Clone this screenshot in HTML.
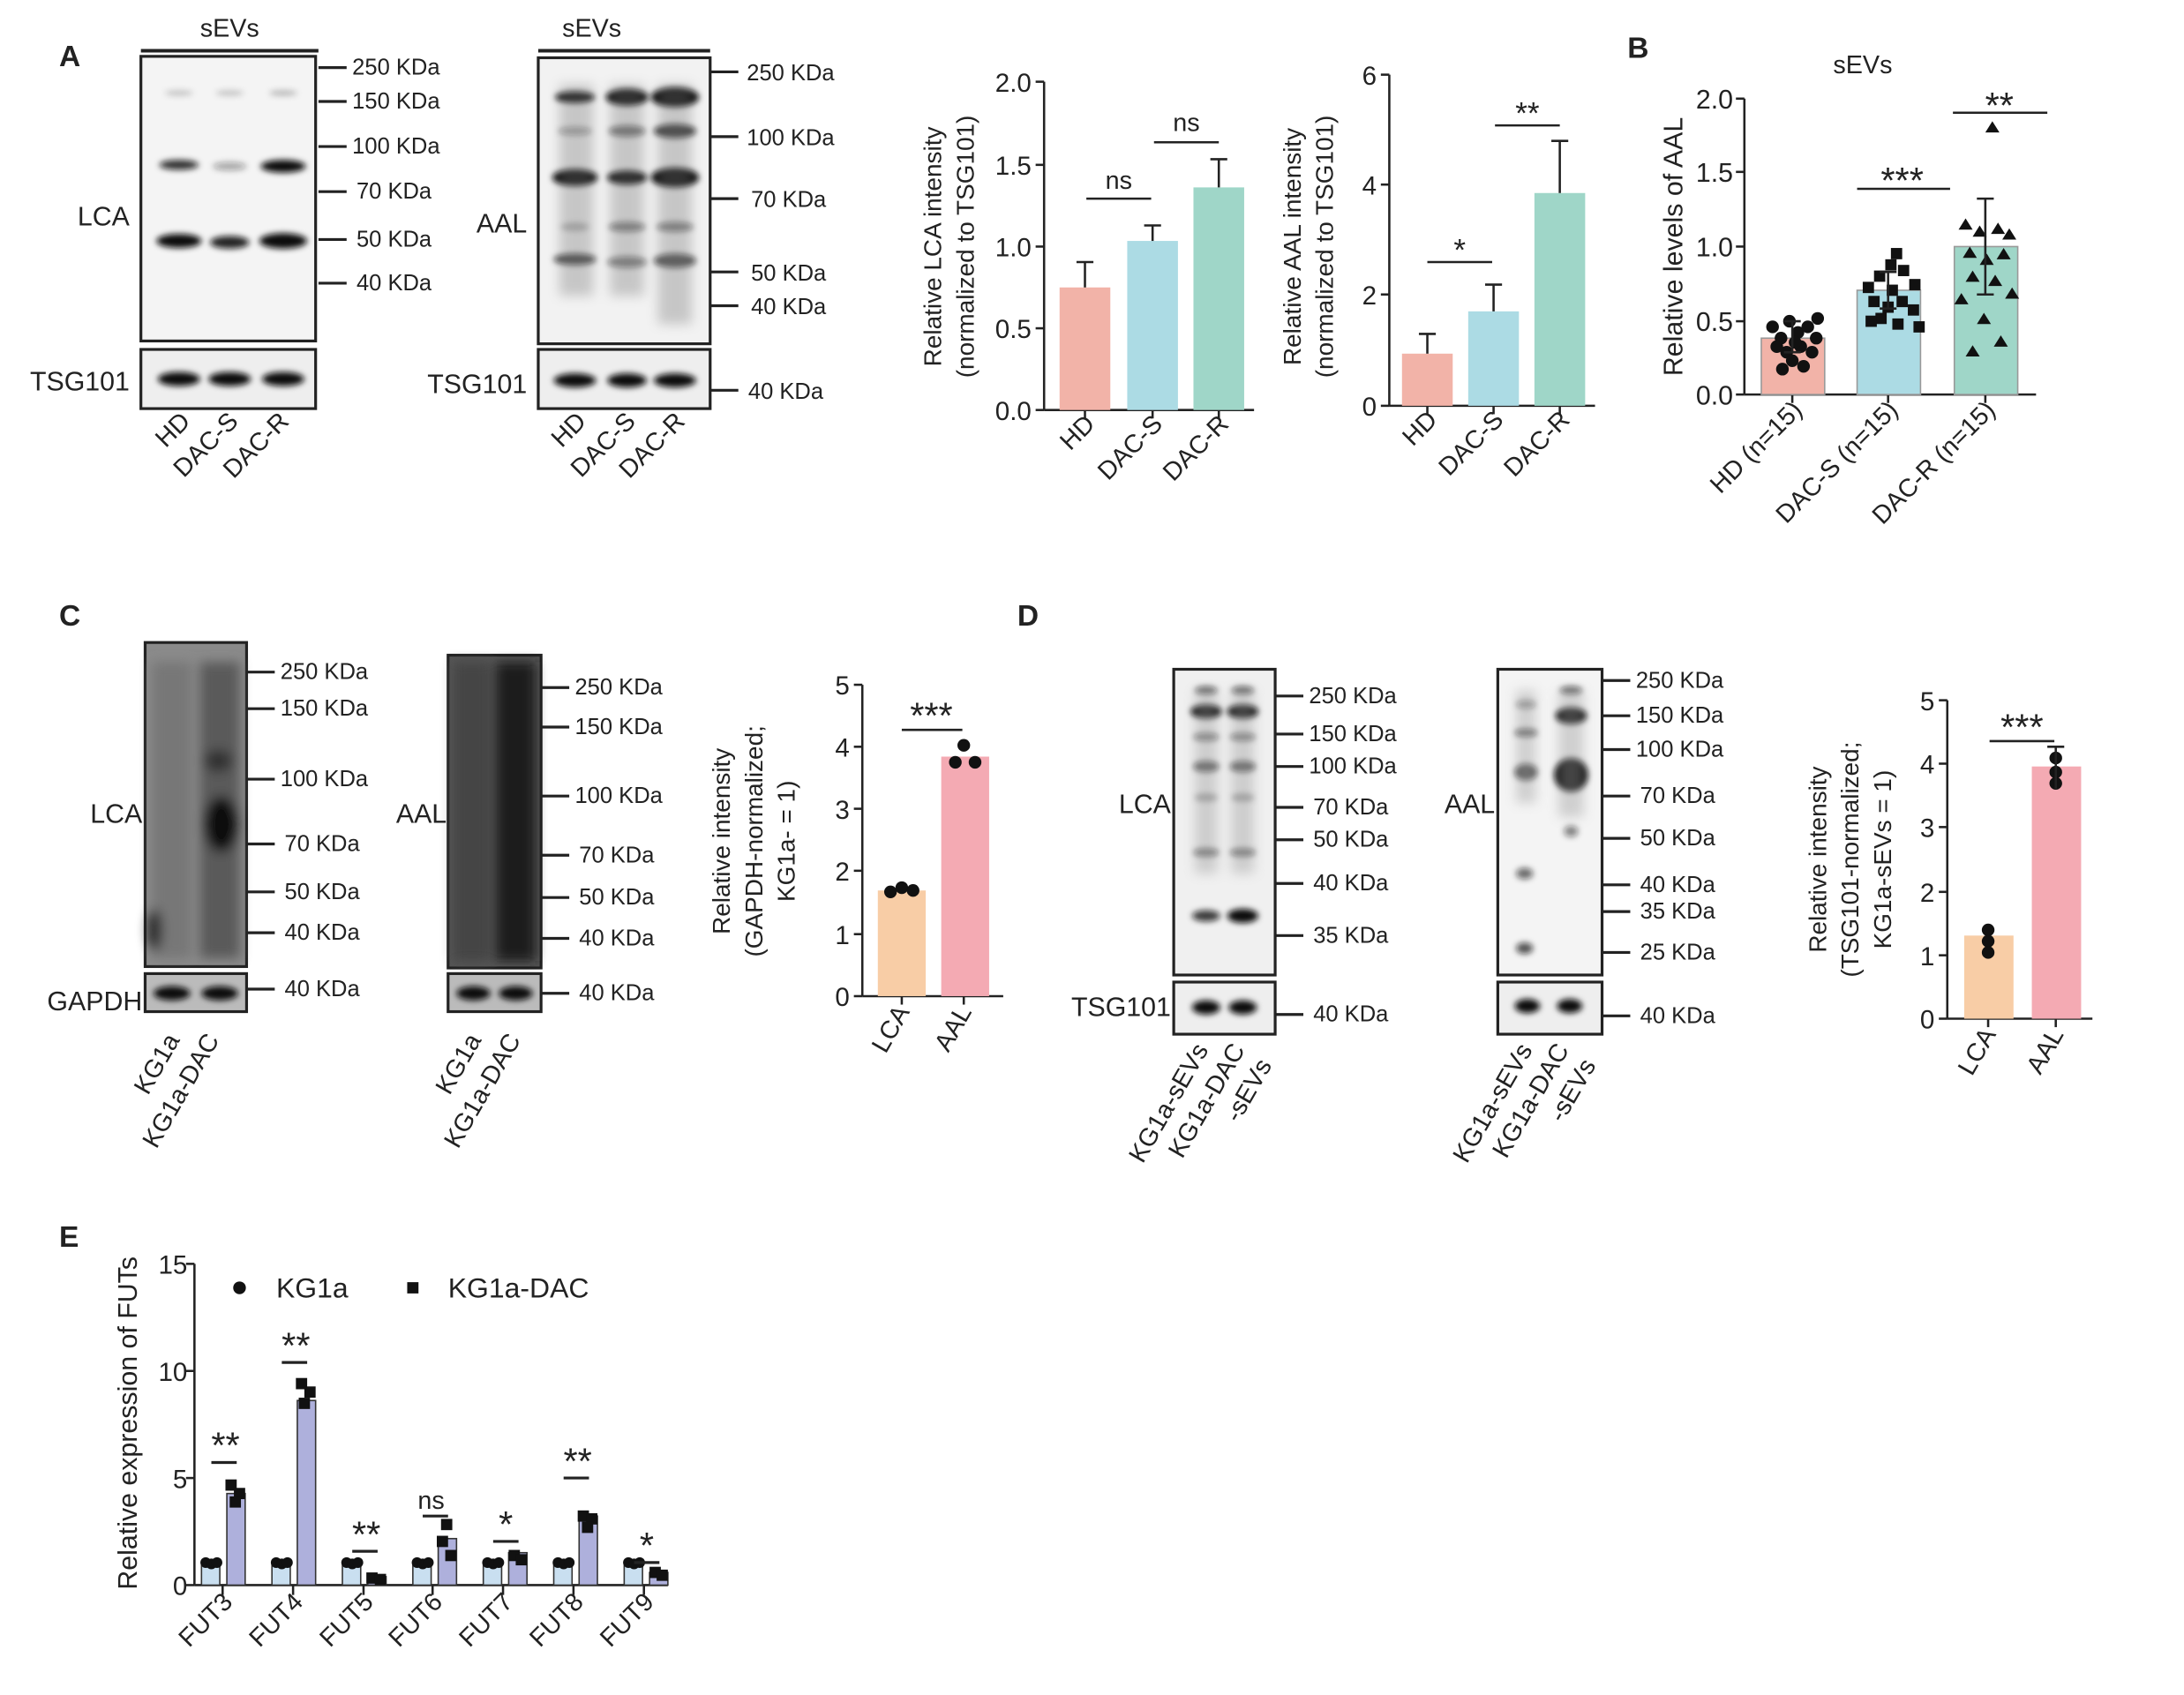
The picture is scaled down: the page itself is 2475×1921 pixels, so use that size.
<!DOCTYPE html>
<html><head><meta charset="utf-8"><style>
html,body{margin:0;padding:0;background:#fff}
svg{display:block}
text{font-family:"Liberation Sans",Arial,sans-serif;fill:#222}
.tk{font-size:18.5px}
.yt{font-size:17.5px}
.xl{font-size:18px}
</style></head><body>
<svg width="2475" height="1921" viewBox="0 0 1550 1203" preserveAspectRatio="none" xmlns="http://www.w3.org/2000/svg">
<defs>
<filter id="b" x="-50%" y="-200%" width="200%" height="500%"><feGaussianBlur stdDeviation="2.2"/></filter>
<filter id="b2" x="-50%" y="-50%" width="200%" height="200%"><feGaussianBlur stdDeviation="4"/></filter>
</defs>
<rect width="1550" height="1203" fill="#fff"/>

<!-- ================= PANEL A ================= -->
<text x="42" y="47" font-size="21" font-weight="bold">A</text>
<text x="163" y="26" font-size="18" text-anchor="middle">sEVs</text>
<line x1="100" y1="36" x2="226" y2="36" stroke="#222" stroke-width="2.5"/>
<rect x="100" y="40" width="124" height="202" fill="#f4f4f4" stroke="#222" stroke-width="2"/>
<g filter="url(#b)" fill="#111">
<ellipse cx="127" cy="117" rx="14" ry="3.5" opacity="0.85"/>
<ellipse cx="163" cy="118" rx="12" ry="3" opacity="0.35"/>
<ellipse cx="201" cy="118" rx="16" ry="4.5"/>
<ellipse cx="127" cy="171" rx="16" ry="5"/>
<ellipse cx="163" cy="172" rx="14" ry="4.5" opacity="0.9"/>
<ellipse cx="201" cy="171" rx="17" ry="5.5"/>
<ellipse cx="127" cy="66" rx="10" ry="2" opacity="0.2"/>
<ellipse cx="163" cy="66" rx="10" ry="2" opacity="0.2"/>
<ellipse cx="201" cy="66" rx="10" ry="2" opacity="0.25"/>
</g>
<rect x="100" y="248" width="124" height="42" fill="#eee" stroke="#222" stroke-width="2"/>
<g filter="url(#b)" fill="#111">
<ellipse cx="127" cy="269" rx="15" ry="5"/><ellipse cx="163" cy="269" rx="15" ry="5"/><ellipse cx="201" cy="269" rx="15" ry="5"/>
</g>
<text x="92" y="160" font-size="19" text-anchor="end">LCA</text>
<text x="92" y="277" font-size="19" text-anchor="end">TSG101</text>
<g stroke="#222" stroke-width="2">
<line x1="226" y1="48" x2="246" y2="48"/><line x1="226" y1="72" x2="246" y2="72"/>
<line x1="226" y1="104" x2="246" y2="104"/><line x1="226" y1="136" x2="246" y2="136"/>
<line x1="226" y1="170" x2="246" y2="170"/><line x1="226" y1="201" x2="246" y2="201"/>
</g>
<g font-size="16">
<text x="250" y="53">250 KDa</text><text x="250" y="77">150 KDa</text>
<text x="250" y="109">100 KDa</text><text x="253" y="141">70 KDa</text>
<text x="253" y="175">50 KDa</text><text x="253" y="206">40 KDa</text>
</g>
<g class="xl" text-anchor="end">
<text transform="translate(136,300) rotate(-45)">HD</text>
<text transform="translate(170,300) rotate(-45)">DAC-S</text>
<text transform="translate(206,300) rotate(-45)">DAC-R</text>
</g>

<!-- AAL blot -->
<text x="420" y="26" font-size="18" text-anchor="middle">sEVs</text>
<line x1="382" y1="36" x2="504" y2="36" stroke="#222" stroke-width="2.5"/>
<rect x="382" y="41" width="122" height="203" fill="#f2f2f2" stroke="#222" stroke-width="2"/>
<g filter="url(#b)" fill="#111">
<ellipse cx="408" cy="69" rx="14" ry="4"/><ellipse cx="445" cy="69" rx="15" ry="6"/><ellipse cx="479" cy="69" rx="17" ry="7"/>
<ellipse cx="408" cy="93" rx="12" ry="3" opacity="0.35"/><ellipse cx="445" cy="93" rx="13" ry="4" opacity="0.55"/><ellipse cx="479" cy="93" rx="15" ry="5" opacity="0.8"/>
<ellipse cx="408" cy="126" rx="16" ry="6"/><ellipse cx="445" cy="126" rx="14" ry="5"/><ellipse cx="479" cy="126" rx="17" ry="7"/>
<ellipse cx="408" cy="161" rx="10" ry="3" opacity="0.25"/><ellipse cx="445" cy="161" rx="13" ry="3.5" opacity="0.5"/><ellipse cx="479" cy="161" rx="13" ry="3.5" opacity="0.5"/>
<ellipse cx="408" cy="184" rx="15" ry="4" opacity="0.75"/><ellipse cx="445" cy="186" rx="14" ry="4" opacity="0.5"/><ellipse cx="479" cy="185" rx="15" ry="5" opacity="0.7"/>
</g>
<g filter="url(#b2)" fill="#777" opacity="0.35">
<rect x="397" y="60" width="24" height="150"/><rect x="433" y="60" width="24" height="150"/><rect x="467" y="60" width="24" height="170"/>
</g>
<rect x="382" y="248" width="122" height="42" fill="#eee" stroke="#222" stroke-width="2"/>
<g filter="url(#b)" fill="#111">
<ellipse cx="408" cy="270" rx="15" ry="5"/><ellipse cx="445" cy="270" rx="14" ry="5"/><ellipse cx="479" cy="270" rx="15" ry="5"/>
</g>
<text x="374" y="165" font-size="19" text-anchor="end">AAL</text>
<text x="374" y="279" font-size="19" text-anchor="end">TSG101</text>
<g stroke="#222" stroke-width="2">
<line x1="504" y1="51" x2="524" y2="51"/><line x1="504" y1="97" x2="524" y2="97"/>
<line x1="504" y1="141" x2="524" y2="141"/><line x1="504" y1="193" x2="524" y2="193"/>
<line x1="504" y1="217" x2="524" y2="217"/><line x1="504" y1="277" x2="524" y2="277"/>
</g>
<g font-size="16">
<text x="530" y="57">250 KDa</text><text x="530" y="103">100 KDa</text>
<text x="533" y="147">70 KDa</text><text x="533" y="199">50 KDa</text>
<text x="533" y="223">40 KDa</text><text x="531" y="283">40 KDa</text>
</g>
<g class="xl" text-anchor="end">
<text transform="translate(417,300) rotate(-45)">HD</text>
<text transform="translate(452,300) rotate(-45)">DAC-S</text>
<text transform="translate(487,300) rotate(-45)">DAC-R</text>
</g>

<!-- LCA bar chart -->
<g stroke="#222" stroke-width="1.6">
<line x1="741" y1="58" x2="741" y2="291"/><line x1="741" y1="291" x2="890" y2="291"/>
<line x1="735" y1="58" x2="741" y2="58"/><line x1="735" y1="117" x2="741" y2="117"/><line x1="735" y1="175" x2="741" y2="175"/><line x1="735" y1="233" x2="741" y2="233"/><line x1="735" y1="291" x2="741" y2="291"/>
<line x1="770" y1="291" x2="770" y2="297"/><line x1="818" y1="291" x2="818" y2="297"/><line x1="865" y1="291" x2="865" y2="297"/>
</g>
<g class="tk" text-anchor="end">
<text x="732" y="65">2.0</text><text x="732" y="124">1.5</text><text x="732" y="182">1.0</text><text x="732" y="240">0.5</text><text x="732" y="298">0.0</text>
</g>
<rect x="752" y="204" width="36" height="87" fill="#f2b3a8"/>
<rect x="800" y="171" width="36" height="120" fill="#acdbe4"/>
<rect x="847" y="133" width="36" height="158" fill="#9fd6c8"/>
<g stroke="#222" stroke-width="1.6">
<line x1="770" y1="204" x2="770" y2="186"/><line x1="764" y1="186" x2="776" y2="186"/>
<line x1="818" y1="171" x2="818" y2="160"/><line x1="812" y1="160" x2="824" y2="160"/>
<line x1="865" y1="133" x2="865" y2="113"/><line x1="859" y1="113" x2="871" y2="113"/>
<line x1="771" y1="141" x2="817" y2="141"/><line x1="819" y1="101" x2="865" y2="101"/>
</g>
<text x="794" y="134" font-size="18" text-anchor="middle">ns</text>
<text x="842" y="93" font-size="18" text-anchor="middle">ns</text>
<text transform="translate(668,175) rotate(-90)" class="yt" text-anchor="middle">Relative LCA intensity</text>
<text transform="translate(691,175) rotate(-90)" class="yt" text-anchor="middle">(normalized to TSG101)</text>
<g class="xl" text-anchor="end">
<text transform="translate(778,302) rotate(-45)">HD</text>
<text transform="translate(826,302) rotate(-45)">DAC-S</text>
<text transform="translate(873,302) rotate(-45)">DAC-R</text>
</g>

<!-- AAL bar chart -->
<g stroke="#222" stroke-width="1.6">
<line x1="986" y1="53" x2="986" y2="288"/><line x1="986" y1="288" x2="1132" y2="288"/>
<line x1="980" y1="53" x2="986" y2="53"/><line x1="980" y1="131" x2="986" y2="131"/><line x1="980" y1="209" x2="986" y2="209"/><line x1="980" y1="288" x2="986" y2="288"/>
<line x1="1013" y1="288" x2="1013" y2="294"/><line x1="1060" y1="288" x2="1060" y2="294"/><line x1="1107" y1="288" x2="1107" y2="294"/>
</g>
<g class="tk" text-anchor="end">
<text x="977" y="60">6</text><text x="977" y="138">4</text><text x="977" y="216">2</text><text x="977" y="295">0</text>
</g>
<rect x="995" y="251" width="36" height="37" fill="#f2b3a8"/>
<rect x="1042" y="221" width="36" height="67" fill="#acdbe4"/>
<rect x="1089" y="137" width="36" height="151" fill="#9fd6c8"/>
<g stroke="#222" stroke-width="1.6">
<line x1="1013" y1="251" x2="1013" y2="237"/><line x1="1007" y1="237" x2="1019" y2="237"/>
<line x1="1060" y1="221" x2="1060" y2="202"/><line x1="1054" y1="202" x2="1066" y2="202"/>
<line x1="1107" y1="137" x2="1107" y2="100"/><line x1="1101" y1="100" x2="1113" y2="100"/>
<line x1="1013" y1="186" x2="1059" y2="186"/><line x1="1061" y1="89" x2="1107" y2="89"/>
</g>
<text x="1036" y="185" font-size="22" text-anchor="middle">*</text>
<text x="1084" y="88" font-size="22" text-anchor="middle">**</text>
<text transform="translate(923,175) rotate(-90)" class="yt" text-anchor="middle">Relative AAL intensity</text>
<text transform="translate(946,175) rotate(-90)" class="yt" text-anchor="middle">(normalized to TSG101)</text>
<g class="xl" text-anchor="end">
<text transform="translate(1021,299) rotate(-45)">HD</text>
<text transform="translate(1068,299) rotate(-45)">DAC-S</text>
<text transform="translate(1115,299) rotate(-45)">DAC-R</text>
</g>

<!-- ================= PANEL B ================= -->
<text x="1155" y="41" font-size="21" font-weight="bold">B</text>
<text x="1322" y="52" font-size="18" text-anchor="middle">sEVs</text>
<g stroke="#222" stroke-width="1.6">
<line x1="1238" y1="70" x2="1238" y2="280"/><line x1="1238" y1="280" x2="1445" y2="280"/>
<line x1="1232" y1="70" x2="1238" y2="70"/><line x1="1232" y1="122" x2="1238" y2="122"/><line x1="1232" y1="175" x2="1238" y2="175"/><line x1="1232" y1="228" x2="1238" y2="228"/><line x1="1232" y1="280" x2="1238" y2="280"/>
<line x1="1272" y1="280" x2="1272" y2="286"/><line x1="1340" y1="280" x2="1340" y2="286"/><line x1="1409" y1="280" x2="1409" y2="286"/>
</g>
<g font-size="19" text-anchor="end">
<text x="1230" y="77">2.0</text><text x="1230" y="129">1.5</text><text x="1230" y="182">1.0</text><text x="1230" y="235">0.5</text><text x="1230" y="287">0.0</text>
</g>
<rect x="1250" y="240" width="45" height="40" fill="#f2b3a8" stroke="#999" stroke-width="1"/>
<rect x="1318" y="206" width="45" height="74" fill="#acdbe4" stroke="#999" stroke-width="1"/>
<rect x="1387" y="175" width="45" height="105" fill="#9fd6c8" stroke="#999" stroke-width="1"/>
<g fill="#111">
<circle cx="1258" cy="232" r="4.5"/><circle cx="1264" cy="240" r="4.5"/><circle cx="1270" cy="228" r="4.5"/><circle cx="1276" cy="236" r="4.5"/><circle cx="1283" cy="232" r="4.5"/><circle cx="1289" cy="240" r="4.5"/><circle cx="1261" cy="246" r="4.5"/><circle cx="1268" cy="250" r="4.5"/><circle cx="1278" cy="246" r="4.5"/><circle cx="1286" cy="250" r="4.5"/><circle cx="1272" cy="256" r="4.5"/><circle cx="1280" cy="260" r="4.5"/><circle cx="1265" cy="262" r="4.5"/><circle cx="1290" cy="226" r="4.5"/><circle cx="1274" cy="243" r="4.5"/>
<rect x="1322" y="200" width="8" height="8"/><rect x="1330" y="192" width="8" height="8"/><rect x="1339" y="202" width="8" height="8"/><rect x="1347" y="188" width="8" height="8"/><rect x="1355" y="198" width="8" height="8"/><rect x="1326" y="210" width="8" height="8"/><rect x="1336" y="214" width="8" height="8"/><rect x="1346" y="210" width="8" height="8"/><rect x="1354" y="216" width="8" height="8"/><rect x="1331" y="222" width="8" height="8"/><rect x="1343" y="226" width="8" height="8"/><rect x="1342" y="176" width="8" height="8"/><rect x="1338" y="184" width="8" height="8"/><rect x="1324" y="224" width="8" height="8"/><rect x="1358" y="228" width="8" height="8"/>
<path d="M1414,86 l5,8 h-10z"/><path d="M1395,155 l5,8 h-10z"/><path d="M1405,160 l5,8 h-10z"/><path d="M1418,158 l5,8 h-10z"/><path d="M1426,162 l5,8 h-10z"/><path d="M1398,175 l5,8 h-10z"/><path d="M1410,180 l5,8 h-10z"/><path d="M1422,176 l5,8 h-10z"/><path d="M1400,192 l5,8 h-10z"/><path d="M1416,195 l5,8 h-10z"/><path d="M1392,208 l5,8 h-10z"/><path d="M1428,204 l5,8 h-10z"/><path d="M1408,222 l5,8 h-10z"/><path d="M1420,238 l5,8 h-10z"/><path d="M1400,245 l5,8 h-10z"/>
</g>
<g stroke="#222" stroke-width="1.6">
<line x1="1272" y1="228" x2="1272" y2="250"/><line x1="1266" y1="228" x2="1278" y2="228"/><line x1="1266" y1="250" x2="1278" y2="250"/>
<line x1="1340" y1="193" x2="1340" y2="219"/><line x1="1334" y1="193" x2="1346" y2="193"/><line x1="1334" y1="219" x2="1346" y2="219"/>
<line x1="1409" y1="141" x2="1409" y2="209"/><line x1="1403" y1="141" x2="1415" y2="141"/><line x1="1403" y1="209" x2="1415" y2="209"/>
<line x1="1318" y1="134" x2="1384" y2="134"/><line x1="1386" y1="80" x2="1453" y2="80"/>
</g>
<text x="1350" y="137" font-size="26" text-anchor="middle">***</text>
<text x="1419" y="84" font-size="26" text-anchor="middle">**</text>
<text transform="translate(1194,175) rotate(-90)" font-size="19" text-anchor="middle">Relative levels of  AAL</text>
<g class="xl" text-anchor="end">
<text transform="translate(1280,292) rotate(-45)">HD (n=15)</text>
<text transform="translate(1348,292) rotate(-45)">DAC-S (n=15)</text>
<text transform="translate(1417,292) rotate(-45)">DAC-R (n=15)</text>
</g>

<!-- ================= PANEL C ================= -->
<text x="42" y="444" font-size="21" font-weight="bold">C</text>
<rect x="103" y="456" width="72" height="230" fill="#8a8a8a" stroke="#222" stroke-width="2"/>
<g filter="url(#b2)">
<rect x="108" y="470" width="28" height="210" fill="#777"/>
<rect x="142" y="470" width="28" height="210" fill="#5a5a5a"/>
<ellipse cx="157" cy="585" rx="12" ry="20" fill="#111"/>
<ellipse cx="155" cy="540" rx="10" ry="8" fill="#333"/>
<ellipse cx="110" cy="660" rx="5" ry="15" fill="#222"/>
</g>
<rect x="103" y="691" width="72" height="27" fill="#bbb" stroke="#222" stroke-width="2"/>
<g filter="url(#b)" fill="#111"><ellipse cx="122" cy="705" rx="13" ry="5"/><ellipse cx="156" cy="705" rx="13" ry="5"/></g>
<text x="101" y="584" font-size="19" text-anchor="end">LCA</text>
<text x="101" y="717" font-size="19" text-anchor="end">GAPDH</text>
<g stroke="#222" stroke-width="2">
<line x1="175" y1="477" x2="195" y2="477"/><line x1="175" y1="503" x2="195" y2="503"/><line x1="175" y1="553" x2="195" y2="553"/><line x1="175" y1="599" x2="195" y2="599"/><line x1="175" y1="633" x2="195" y2="633"/><line x1="175" y1="662" x2="195" y2="662"/><line x1="175" y1="702" x2="195" y2="702"/>
</g>
<g font-size="16">
<text x="199" y="482">250 KDa</text><text x="199" y="508">150 KDa</text><text x="199" y="558">100 KDa</text><text x="202" y="604">70 KDa</text><text x="202" y="638">50 KDa</text><text x="202" y="667">40 KDa</text><text x="202" y="707">40 KDa</text>
</g>
<rect x="318" y="465" width="66" height="222" fill="#555" stroke="#222" stroke-width="2"/>
<g filter="url(#b2)">
<rect x="322" y="470" width="26" height="212" fill="#444"/>
<rect x="352" y="470" width="28" height="212" fill="#1a1a1a"/>
</g>
<rect x="318" y="691" width="66" height="27" fill="#bbb" stroke="#222" stroke-width="2"/>
<g filter="url(#b)" fill="#111"><ellipse cx="336" cy="705" rx="12" ry="5"/><ellipse cx="366" cy="705" rx="12" ry="5"/></g>
<text x="317" y="584" font-size="19" text-anchor="end">AAL</text>
<g stroke="#222" stroke-width="2">
<line x1="384" y1="488" x2="404" y2="488"/><line x1="384" y1="516" x2="404" y2="516"/><line x1="384" y1="565" x2="404" y2="565"/><line x1="384" y1="607" x2="404" y2="607"/><line x1="384" y1="637" x2="404" y2="637"/><line x1="384" y1="666" x2="404" y2="666"/><line x1="384" y1="705" x2="404" y2="705"/>
</g>
<g font-size="16">
<text x="408" y="493">250 KDa</text><text x="408" y="521">150 KDa</text><text x="408" y="570">100 KDa</text><text x="411" y="612">70 KDa</text><text x="411" y="642">50 KDa</text><text x="411" y="671">40 KDa</text><text x="411" y="710">40 KDa</text>
</g>
<g class="xl" text-anchor="end">
<text transform="translate(128,738) rotate(-60)">KG1a</text>
<text transform="translate(156,738) rotate(-60)">KG1a-DAC</text>
<text transform="translate(342,738) rotate(-60)">KG1a</text>
<text transform="translate(370,738) rotate(-60)">KG1a-DAC</text>
</g>
<!-- C bar -->
<g stroke="#222" stroke-width="1.6">
<line x1="612" y1="486" x2="612" y2="707"/><line x1="612" y1="707" x2="712" y2="707"/>
<line x1="606" y1="486" x2="612" y2="486"/><line x1="606" y1="530" x2="612" y2="530"/><line x1="606" y1="574" x2="612" y2="574"/><line x1="606" y1="618" x2="612" y2="618"/><line x1="606" y1="663" x2="612" y2="663"/><line x1="606" y1="707" x2="612" y2="707"/>
<line x1="640" y1="707" x2="640" y2="713"/><line x1="684" y1="707" x2="684" y2="713"/>
</g>
<g class="tk" text-anchor="end">
<text x="603" y="493">5</text><text x="603" y="537">4</text><text x="603" y="581">3</text><text x="603" y="625">2</text><text x="603" y="670">1</text><text x="603" y="714">0</text>
</g>
<rect x="623" y="632" width="34" height="75" fill="#f8cda6"/>
<rect x="668" y="537" width="34" height="170" fill="#f4aab3"/>
<g fill="#111"><circle cx="632" cy="633" r="4.5"/><circle cx="640" cy="630" r="4.5"/><circle cx="648" cy="632" r="4.5"/><circle cx="678" cy="541" r="4.5"/><circle cx="684" cy="529" r="4.5"/><circle cx="692" cy="541" r="4.5"/></g>
<line x1="640" y1="518" x2="683" y2="518" stroke="#222" stroke-width="1.6"/>
<text x="661" y="517" font-size="26" text-anchor="middle">***</text>
<text transform="translate(518,597) rotate(-90)" class="yt" text-anchor="middle">Relative intensity</text>
<text transform="translate(541,597) rotate(-90)" class="yt" text-anchor="middle">(GAPDH-normalized;</text>
<text transform="translate(564,597) rotate(-90)" class="yt" text-anchor="middle">KG1a- = 1)</text>
<g class="xl" text-anchor="end">
<text transform="translate(646,718) rotate(-60)">LCA</text>
<text transform="translate(690,718) rotate(-60)">AAL</text>
</g>

<!-- ================= PANEL D ================= -->
<text x="722" y="444" font-size="21" font-weight="bold">D</text>
<rect x="833" y="475" width="72" height="217" fill="#f0f0f0" stroke="#222" stroke-width="2"/>
<g filter="url(#b)" fill="#111">
<ellipse cx="856" cy="490" rx="8" ry="3" opacity="0.6"/><ellipse cx="882" cy="490" rx="8" ry="3" opacity="0.6"/>
<ellipse cx="856" cy="505" rx="11" ry="5"/><ellipse cx="882" cy="505" rx="11" ry="5"/>
<ellipse cx="856" cy="523" rx="9" ry="3" opacity="0.5"/><ellipse cx="882" cy="523" rx="9" ry="3" opacity="0.5"/>
<ellipse cx="856" cy="544" rx="9" ry="4" opacity="0.65"/><ellipse cx="882" cy="544" rx="9" ry="4" opacity="0.65"/>
<ellipse cx="856" cy="566" rx="8" ry="3" opacity="0.3"/><ellipse cx="882" cy="566" rx="8" ry="3" opacity="0.3"/>
<ellipse cx="856" cy="605" rx="9" ry="3" opacity="0.55"/><ellipse cx="882" cy="605" rx="9" ry="3" opacity="0.55"/>
<ellipse cx="856" cy="650" rx="10" ry="4" opacity="0.8"/><ellipse cx="882" cy="650" rx="11" ry="5"/>
</g>
<g filter="url(#b2)" fill="#999" opacity="0.4"><rect x="848" y="490" width="16" height="130"/><rect x="874" y="490" width="16" height="130"/></g>
<rect x="833" y="697" width="72" height="37" fill="#eee" stroke="#222" stroke-width="2"/>
<g filter="url(#b)" fill="#111"><ellipse cx="856" cy="715" rx="10" ry="5"/><ellipse cx="882" cy="715" rx="10" ry="5"/></g>
<text x="831" y="577" font-size="19" text-anchor="end">LCA</text>
<text x="831" y="721" font-size="19" text-anchor="end">TSG101</text>
<g stroke="#222" stroke-width="2">
<line x1="905" y1="494" x2="925" y2="494"/><line x1="905" y1="521" x2="925" y2="521"/><line x1="905" y1="544" x2="925" y2="544"/><line x1="905" y1="573" x2="925" y2="573"/><line x1="905" y1="596" x2="925" y2="596"/><line x1="905" y1="627" x2="925" y2="627"/><line x1="905" y1="664" x2="925" y2="664"/><line x1="905" y1="720" x2="925" y2="720"/>
</g>
<g font-size="16">
<text x="929" y="499">250 KDa</text><text x="929" y="526">150 KDa</text><text x="929" y="549">100 KDa</text><text x="932" y="578">70 KDa</text><text x="932" y="601">50 KDa</text><text x="932" y="632">40 KDa</text><text x="932" y="669">35 KDa</text><text x="932" y="725">40 KDa</text>
</g>
<rect x="1063" y="475" width="74" height="217" fill="#f4f4f4" stroke="#222" stroke-width="2"/>
<g filter="url(#b)" fill="#111">
<ellipse cx="1083" cy="500" rx="7" ry="3" opacity="0.4"/><ellipse cx="1115" cy="490" rx="8" ry="3" opacity="0.6"/>
<ellipse cx="1083" cy="520" rx="8" ry="3" opacity="0.6"/><ellipse cx="1115" cy="508" rx="11" ry="6"/>
<ellipse cx="1083" cy="548" rx="8" ry="6" opacity="0.7"/><ellipse cx="1115" cy="550" rx="12" ry="12"/>
<ellipse cx="1115" cy="590" rx="5" ry="4" opacity="0.5"/>
<ellipse cx="1082" cy="620" rx="6" ry="4" opacity="0.6"/>
<ellipse cx="1082" cy="673" rx="6" ry="4" opacity="0.7"/>
</g>
<g filter="url(#b2)" fill="#999" opacity="0.4"><rect x="1076" y="490" width="14" height="80"/><rect x="1106" y="490" width="18" height="90"/></g>
<rect x="1063" y="697" width="74" height="37" fill="#eee" stroke="#222" stroke-width="2"/>
<g filter="url(#b)" fill="#111"><ellipse cx="1084" cy="714" rx="9" ry="5"/><ellipse cx="1114" cy="714" rx="9" ry="5"/></g>
<text x="1061" y="577" font-size="19" text-anchor="end">AAL</text>
<g stroke="#222" stroke-width="2">
<line x1="1137" y1="483" x2="1157" y2="483"/><line x1="1137" y1="508" x2="1157" y2="508"/><line x1="1137" y1="532" x2="1157" y2="532"/><line x1="1137" y1="565" x2="1157" y2="565"/><line x1="1137" y1="595" x2="1157" y2="595"/><line x1="1137" y1="628" x2="1157" y2="628"/><line x1="1137" y1="647" x2="1157" y2="647"/><line x1="1137" y1="676" x2="1157" y2="676"/><line x1="1137" y1="721" x2="1157" y2="721"/>
</g>
<g font-size="16">
<text x="1161" y="488">250 KDa</text><text x="1161" y="513">150 KDa</text><text x="1161" y="537">100 KDa</text><text x="1164" y="570">70 KDa</text><text x="1164" y="600">50 KDa</text><text x="1164" y="633">40 KDa</text><text x="1164" y="652">35 KDa</text><text x="1164" y="681">25 KDa</text><text x="1164" y="726">40 KDa</text>
</g>
<g class="xl" text-anchor="end">
<text transform="translate(858,745) rotate(-60)">KG1a-sEVs</text>
<text transform="translate(884,745) rotate(-60)">KG1a-DAC</text>
<text transform="translate(903,756) rotate(-60)">-sEVs</text>
<text transform="translate(1088,745) rotate(-60)">KG1a-sEVs</text>
<text transform="translate(1114,745) rotate(-60)">KG1a-DAC</text>
<text transform="translate(1133,756) rotate(-60)">-sEVs</text>
</g>
<!-- D bar -->
<g stroke="#222" stroke-width="1.6">
<line x1="1382" y1="497" x2="1382" y2="723"/><line x1="1382" y1="723" x2="1485" y2="723"/>
<line x1="1376" y1="497" x2="1382" y2="497"/><line x1="1376" y1="542" x2="1382" y2="542"/><line x1="1376" y1="587" x2="1382" y2="587"/><line x1="1376" y1="633" x2="1382" y2="633"/><line x1="1376" y1="678" x2="1382" y2="678"/><line x1="1376" y1="723" x2="1382" y2="723"/>
<line x1="1411" y1="723" x2="1411" y2="729"/><line x1="1459" y1="723" x2="1459" y2="729"/>
</g>
<g class="tk" text-anchor="end">
<text x="1373" y="504">5</text><text x="1373" y="549">4</text><text x="1373" y="594">3</text><text x="1373" y="640">2</text><text x="1373" y="685">1</text><text x="1373" y="730">0</text>
</g>
<rect x="1394" y="664" width="35" height="59" fill="#f8cda6"/>
<rect x="1442" y="544" width="35" height="179" fill="#f4aab3"/>
<g fill="#111"><circle cx="1411" cy="660" r="4.5"/><circle cx="1411" cy="668" r="4.5"/><circle cx="1411" cy="676" r="4.5"/><circle cx="1459" cy="538" r="4.5"/><circle cx="1459" cy="548" r="4.5"/><circle cx="1459" cy="556" r="4.5"/></g>
<g stroke="#222" stroke-width="1.6"><line x1="1459" y1="530" x2="1459" y2="560"/><line x1="1453" y1="530" x2="1465" y2="530"/><line x1="1412" y1="526" x2="1458" y2="526"/></g>
<text x="1435" y="525" font-size="26" text-anchor="middle">***</text>
<text transform="translate(1296,610) rotate(-90)" class="yt" text-anchor="middle">Relative intensity</text>
<text transform="translate(1319,610) rotate(-90)" class="yt" text-anchor="middle">(TSG101-normalized;</text>
<text transform="translate(1342,610) rotate(-90)" class="yt" text-anchor="middle">KG1a-sEVs = 1)</text>
<g class="xl" text-anchor="end">
<text transform="translate(1417,734) rotate(-60)">LCA</text>
<text transform="translate(1465,734) rotate(-60)">AAL</text>
</g>

<!-- ================= PANEL E ================= -->
<text x="42" y="885" font-size="21" font-weight="bold">E</text>
<g stroke="#222" stroke-width="1.6">
<line x1="138" y1="897" x2="138" y2="1125"/><line x1="138" y1="1125" x2="474" y2="1125"/>
<line x1="132" y1="897" x2="138" y2="897"/><line x1="132" y1="973" x2="138" y2="973"/><line x1="132" y1="1049" x2="138" y2="1049"/><line x1="132" y1="1125" x2="138" y2="1125"/>
<line x1="158" y1="1125" x2="158" y2="1132"/><line x1="208" y1="1125" x2="208" y2="1132"/><line x1="258" y1="1125" x2="258" y2="1132"/><line x1="307" y1="1125" x2="307" y2="1132"/><line x1="357" y1="1125" x2="357" y2="1132"/><line x1="407" y1="1125" x2="407" y2="1132"/><line x1="457" y1="1125" x2="457" y2="1132"/>
</g>
<g font-size="18.5" text-anchor="end">
<text x="133" y="904">15</text><text x="133" y="980">10</text><text x="133" y="1056">5</text><text x="133" y="1132">0</text>
</g>
<text transform="translate(97,1010) rotate(-90)" font-size="19" text-anchor="middle">Relative expression of FUTs</text>
<circle cx="170" cy="914" r="4.5" fill="#111"/>
<text x="196" y="921" font-size="20">KG1a</text>
<rect x="289" y="910" width="8" height="8" fill="#111"/>
<text x="318" y="921" font-size="20">KG1a-DAC</text>
<g fill="#c9dff0" stroke="#333" stroke-width="1">
<rect x="143" y="1110" width="13" height="15"/><rect x="193" y="1110" width="13" height="15"/><rect x="243" y="1110" width="13" height="15"/><rect x="293" y="1110" width="13" height="15"/><rect x="343" y="1110" width="13" height="15"/><rect x="393" y="1110" width="13" height="15"/><rect x="443" y="1110" width="13" height="15"/>
</g>
<g fill="#aeb0dc" stroke="#333" stroke-width="1">
<rect x="161" y="1060" width="13" height="65"/><rect x="211" y="994" width="13" height="131"/><rect x="261" y="1119" width="13" height="6"/><rect x="311" y="1092" width="13" height="33"/><rect x="361" y="1102" width="13" height="23"/><rect x="411" y="1076" width="13" height="49"/><rect x="461" y="1116" width="13" height="9"/>
</g>
<g fill="#111">
<circle cx="146" cy="1109" r="3.8"/><circle cx="150" cy="1110" r="3.8"/><circle cx="154" cy="1109" r="3.8"/>
<circle cx="196" cy="1109" r="3.8"/><circle cx="200" cy="1110" r="3.8"/><circle cx="204" cy="1109" r="3.8"/>
<circle cx="246" cy="1109" r="3.8"/><circle cx="250" cy="1110" r="3.8"/><circle cx="254" cy="1109" r="3.8"/>
<circle cx="296" cy="1109" r="3.8"/><circle cx="300" cy="1110" r="3.8"/><circle cx="304" cy="1109" r="3.8"/>
<circle cx="346" cy="1109" r="3.8"/><circle cx="350" cy="1110" r="3.8"/><circle cx="354" cy="1109" r="3.8"/>
<circle cx="396" cy="1109" r="3.8"/><circle cx="400" cy="1110" r="3.8"/><circle cx="404" cy="1109" r="3.8"/>
<circle cx="446" cy="1109" r="3.8"/><circle cx="450" cy="1110" r="3.8"/><circle cx="454" cy="1109" r="3.8"/>
<rect x="160" y="1050" width="8" height="8"/><rect x="166" y="1056" width="8" height="8"/><rect x="163" y="1062" width="8" height="8"/>
<rect x="210" y="978" width="8" height="8"/><rect x="216" y="984" width="8" height="8"/><rect x="212" y="992" width="8" height="8"/>
<rect x="260" y="1116" width="8" height="8"/><rect x="266" y="1117" width="8" height="8"/>
<rect x="313" y="1078" width="8" height="8"/><rect x="310" y="1090" width="8" height="8"/><rect x="316" y="1100" width="8" height="8"/>
<rect x="361" y="1100" width="8" height="8"/><rect x="366" y="1103" width="8" height="8"/>
<rect x="410" y="1072" width="8" height="8"/><rect x="416" y="1074" width="8" height="8"/><rect x="413" y="1080" width="8" height="8"/>
<rect x="461" y="1112" width="8" height="8"/><rect x="466" y="1114" width="8" height="8"/>
</g>
<g stroke="#222" stroke-width="2">
<line x1="150" y1="1038" x2="168" y2="1038"/><line x1="200" y1="967" x2="218" y2="967"/><line x1="250" y1="1101" x2="268" y2="1101"/><line x1="300" y1="1076" x2="318" y2="1076"/><line x1="350" y1="1094" x2="368" y2="1094"/><line x1="400" y1="1049" x2="418" y2="1049"/><line x1="450" y1="1109" x2="468" y2="1109"/>
</g>
<g font-size="26" text-anchor="middle">
<text x="160" y="1035">**</text><text x="210" y="964">**</text><text x="260" y="1098">**</text><text x="359" y="1091">*</text><text x="410" y="1046">**</text><text x="459" y="1106">*</text>
</g>
<text x="306" y="1071" font-size="18" text-anchor="middle">ns</text>
<g class="xl" text-anchor="end">
<text transform="translate(166,1138) rotate(-45)">FUT3</text>
<text transform="translate(216,1138) rotate(-45)">FUT4</text>
<text transform="translate(266,1138) rotate(-45)">FUT5</text>
<text transform="translate(315,1138) rotate(-45)">FUT6</text>
<text transform="translate(365,1138) rotate(-45)">FUT7</text>
<text transform="translate(415,1138) rotate(-45)">FUT8</text>
<text transform="translate(465,1138) rotate(-45)">FUT9</text>
</g>
</svg>
</body></html>
